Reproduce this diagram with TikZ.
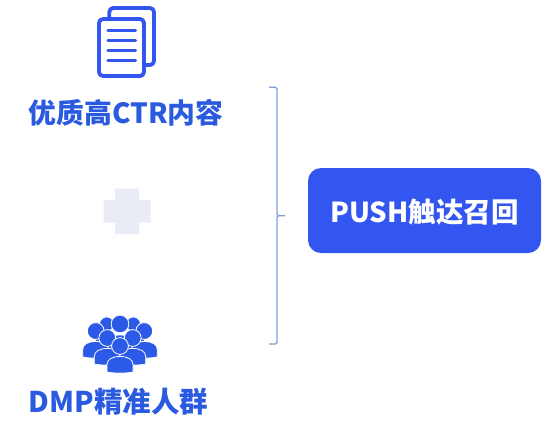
\documentclass[tikz,border=0pt]{standalone}
\usepackage{fontspec}
\newfontfamily\cjk{Noto Sans CJK SC}
\definecolor{iconblue}{HTML}{3456F0}
\definecolor{peopleblue}{HTML}{2A5AE6}
\definecolor{textblue}{HTML}{2A5AE0}
\definecolor{crossgrey}{HTML}{E9EBF5}
\definecolor{bracketblue}{HTML}{7F9FD8}
\tikzset{
  doc/.style={draw=iconblue,line width=3.8pt,line join=round,rounded corners=4pt},
  docline/.style={draw=iconblue,line width=3.4pt,line cap=round},
  person/.style={fill=peopleblue,draw=white,line width=0.8pt},
  label/.style={text=textblue,font=\cjk\bfseries\fontsize{27.8}{32}\selectfont,inner sep=0pt},
  pushbox/.style={fill=iconblue,rounded corners=13pt,minimum width=233pt,minimum height=85pt,inner sep=0pt,text=white,font=\cjk\bfseries\fontsize{27.5}{32}\selectfont}
}
\newcommand{\personat}[3]{% x, y of body top, scale
  \begin{scope}[shift={(#1,#2)},scale=#3]
    \path[person] (-13,15.5) -- (-13,8) .. controls (-13,3) and (-8,0) .. (0,0) .. controls (8,0) and (13,3) .. (13,8) -- (13,15.5) .. controls (6,17) and (-6,17) .. (-13,15.5) -- cycle;
    \path[person] (0,-10.5) circle (8.4);
  \end{scope}}
\begin{document}
\begin{tikzpicture}[x=1pt,y=-1pt]
\useasboundingbox (0,0) rectangle (551,426);
% document icon
\draw[doc] (109.3,17) -- (109.3,8) -- (154,8) -- (154,65) -- (146,65);
\draw[doc] (99,19) rectangle (144,76);
\foreach \yy in {30.7,40.5,50.3,60.3} \draw[docline] (108,\yy) -- (135.5,\yy);
\node[label] (quality) at (126,113) {优质高CTR内容};
% plus
\fill[crossgrey] (115,188.7) -- (139,188.7) -- (139,200) -- (150.7,200) -- (150.7,222.7) -- (139,222.7) -- (139,234) -- (115,234) -- (115,222.7) -- (103.7,222.7) -- (103.7,200) -- (115,200) -- cycle;
% people icon
\personat{106.7}{333}{0.85}
\personat{133.3}{333}{0.85}
\personat{120}{335}{1.05}
\personat{95.7}{341.5}{1}
\personat{144.3}{341.5}{1}
\personat{107.3}{348.5}{1}
\personat{132.7}{348.5}{1}
\personat{120}{356.5}{1}
\node[label,font=\cjk\bfseries\fontsize{28.5}{32}\selectfont] (dmp) at (118.5,402) {DMP精准人群};
% brace
\coordinate (bt) at (269,87.3);
\coordinate (bb) at (269,344);
\coordinate (bm) at (285,215.7);
\draw[bracketblue,line width=1.2pt] (bt) -- (275.5,87.3) -- (277,88.8) -- (277,214.2) -- (278.5,215.7) -- (bm);
\draw[bracketblue,line width=1.2pt] (278.5,215.7) -- (277,217.2) -- (277,342.5) -- (275.5,344) -- (bb);
\node[pushbox] (push) at (424.5,210.5) {\raisebox{-2pt}[\height][\depth]{PUSH触达召回}};
\end{tikzpicture}
\end{document}
